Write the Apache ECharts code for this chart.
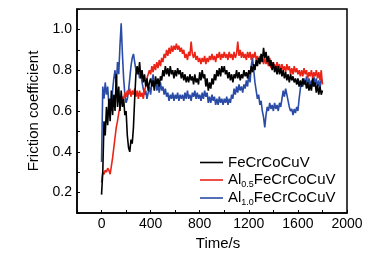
<!DOCTYPE html>
<html>
<head>
<meta charset="utf-8">
<script src="https://cdn.jsdelivr.net/npm/echarts@6/dist/echarts.min.js"></script>
<style>
  html, body { margin: 0; padding: 0; background: #fff; }
  #chart { width: 371px; height: 259px; }
</style>
</head>
<body>
<div id="chart"></div>
<script>
// sampling step of the friction curves, seconds
const timeStep = 10

// tick label positions
const xLabels = [0, 400, 800, 1200, 1600, 2000]
const yLabels = [0.2, 0.4, 0.6, 0.8, 1.0]

const seriesNames = ['FeCrCoCuV', 'Al0.5FeCrCoCuV', 'Al1.0FeCrCoCuV']

// FeCrCoCuV, 0..1800 s
const fecrcocuv = [
  0.19, 0.30, 0.55, 0.48, 0.62, 0.53, 0.66, 0.55, 0.70, 0.58,
  0.68, 0.60, 0.78, 0.62, 0.72, 0.60, 0.70, 0.62, 0.66, 0.58,
  0.60, 0.48, 0.42, 0.40, 0.46, 0.44, 0.52, 0.66, 0.78, 0.82,
  0.78, 0.84, 0.76, 0.80, 0.74, 0.78, 0.72, 0.76, 0.70, 0.74,
  0.76, 0.72, 0.75, 0.70, 0.77, 0.73, 0.76, 0.72, 0.77, 0.75,
  0.80, 0.77, 0.82, 0.78, 0.81, 0.77, 0.82, 0.78, 0.80, 0.76,
  0.80, 0.77, 0.81, 0.78, 0.80, 0.76, 0.79, 0.75, 0.78, 0.74,
  0.77, 0.74, 0.78, 0.75, 0.77, 0.73, 0.78, 0.74, 0.76, 0.73,
  0.79, 0.75, 0.80, 0.76, 0.78, 0.72, 0.76, 0.70, 0.74, 0.71,
  0.76, 0.73, 0.78, 0.75, 0.80, 0.77, 0.81, 0.77, 0.82, 0.79,
  0.82, 0.78, 0.80, 0.76, 0.79, 0.75, 0.78, 0.74, 0.78, 0.76,
  0.80, 0.76, 0.79, 0.75, 0.78, 0.76, 0.80, 0.77, 0.79, 0.76,
  0.80, 0.78, 0.82, 0.79, 0.83, 0.80, 0.85, 0.82, 0.86, 0.83,
  0.88, 0.84, 0.91, 0.86, 0.89, 0.84, 0.87, 0.82, 0.85, 0.80,
  0.84, 0.79, 0.82, 0.78, 0.82, 0.78, 0.81, 0.77, 0.80, 0.76,
  0.79, 0.75, 0.78, 0.74, 0.78, 0.75, 0.77, 0.74, 0.76, 0.73,
  0.76, 0.72, 0.75, 0.72, 0.76, 0.73, 0.75, 0.71, 0.74, 0.70,
  0.73, 0.70, 0.76, 0.72, 0.74, 0.69, 0.73, 0.68, 0.72, 0.68,
  0.70
]

// Al0.5FeCrCoCuV
const al05 = [
  0.25, 0.30, 0.29, 0.31, 0.30, 0.32, 0.31, 0.29, 0.33, 0.37,
  0.42, 0.47, 0.52, 0.55, 0.59, 0.62, 0.64, 0.67, 0.66, 0.69,
  0.67, 0.70, 0.68, 0.71, 0.67, 0.70, 0.68, 0.71, 0.67, 0.70,
  0.66, 0.70, 0.67, 0.69, 0.66, 0.70, 0.72, 0.76, 0.78, 0.80,
  0.78, 0.82, 0.79, 0.83, 0.80, 0.84, 0.81, 0.85, 0.82, 0.86,
  0.84, 0.88, 0.86, 0.90, 0.87, 0.91, 0.88, 0.92, 0.89, 0.92,
  0.90, 0.93, 0.90, 0.92, 0.89, 0.91, 0.88, 0.90, 0.86, 0.88,
  0.85, 0.89, 0.87, 0.94, 0.88, 0.86, 0.89, 0.85, 0.87, 0.84,
  0.86, 0.83, 0.86, 0.84, 0.87, 0.83, 0.86, 0.84, 0.87, 0.85,
  0.88, 0.85, 0.87, 0.84, 0.88, 0.86, 0.89, 0.85, 0.88, 0.86,
  0.89, 0.86, 0.88, 0.85, 0.89, 0.86, 0.88, 0.85, 0.89, 0.86,
  0.88, 0.94, 0.87, 0.90, 0.86, 0.89, 0.86, 0.88, 0.85, 0.89,
  0.86, 0.89, 0.85, 0.88, 0.86, 0.89, 0.85, 0.87, 0.84, 0.87,
  0.84, 0.86, 0.83, 0.86, 0.83, 0.85, 0.82, 0.86, 0.81, 0.84,
  0.81, 0.83, 0.80, 0.84, 0.81, 0.83, 0.79, 0.83, 0.80, 0.82,
  0.79, 0.83, 0.80, 0.82, 0.78, 0.81, 0.78, 0.82, 0.79, 0.81,
  0.78, 0.80, 0.77, 0.80, 0.77, 0.81, 0.78, 0.80, 0.76, 0.79,
  0.77, 0.80, 0.76, 0.79, 0.77, 0.80, 0.76, 0.79, 0.75, 0.80,
  0.73
]

// Al1.0FeCrCoCuV
const al10 = [
  0.35, 0.72, 0.66, 0.74, 0.68, 0.72, 0.63, 0.66, 0.60, 0.70,
  0.76, 0.80, 0.72, 0.84, 0.78, 0.92, 1.03, 0.88, 0.76, 0.68,
  0.64, 0.66, 0.70, 0.76, 0.82, 0.86, 0.88, 0.84, 0.80, 0.78,
  0.80, 0.76, 0.79, 0.74, 0.71, 0.68, 0.70, 0.66, 0.69, 0.72,
  0.68, 0.74, 0.78, 0.72, 0.75, 0.70, 0.73, 0.69, 0.74, 0.70,
  0.72, 0.68, 0.71, 0.67, 0.69, 0.65, 0.68, 0.66, 0.69, 0.65,
  0.68, 0.66, 0.69, 0.65, 0.68, 0.66, 0.68, 0.65, 0.69, 0.66,
  0.70, 0.66, 0.68, 0.65, 0.69, 0.67, 0.70, 0.66, 0.69, 0.66,
  0.68, 0.65, 0.69, 0.66, 0.70, 0.67, 0.69, 0.64, 0.67, 0.64,
  0.68, 0.65, 0.67, 0.63, 0.66, 0.63, 0.67, 0.64, 0.66, 0.63,
  0.66, 0.64, 0.67, 0.63, 0.66, 0.64, 0.68, 0.66, 0.71, 0.68,
  0.72, 0.69, 0.73, 0.70, 0.72, 0.69, 0.73, 0.71, 0.75, 0.72,
  0.78, 0.74, 0.82, 0.86, 0.80, 0.74, 0.70, 0.66, 0.68, 0.63,
  0.65, 0.60, 0.57, 0.52, 0.58, 0.62, 0.60, 0.64, 0.61, 0.63,
  0.60, 0.64, 0.61, 0.63, 0.60, 0.64, 0.62, 0.66, 0.70, 0.67,
  0.71, 0.68, 0.65, 0.62, 0.60, 0.61, 0.58, 0.61, 0.59, 0.62,
  0.60, 0.66, 0.71, 0.74, 0.72, 0.76, 0.73, 0.77, 0.73, 0.76,
  0.72, 0.75, 0.72, 0.77, 0.73, 0.76, 0.72, 0.75, 0.71, 0.76,
  0.74
]

const colors = ['#000000', '#ec2418', '#2a4ca6']

function toPairs(values) {
  return values.map((v, i) => [i * timeStep, v])
}

const chart = echarts.init(document.getElementById('chart'))
const font = 'Liberation Sans, Arial, sans-serif'

const option = {
  animation: false,
  grid: {
    left: 77, right: 24, top: 9, bottom: 46,
    show: true, borderColor: '#000', borderWidth: 1.5
  },
  legend: {
    orient: 'vertical',
    left: 200, top: 154, padding: 0,
    icon: 'rect',
    itemWidth: 23, itemHeight: 1.6, itemGap: 0,
    data: seriesNames,
    textStyle: {
      fontFamily: font, fontSize: 15, color: '#000', lineHeight: 17,
      rich: {
        n: { fontFamily: font, fontSize: 15, color: '#000', lineHeight: 17 },
        s: { fontFamily: font, fontSize: 9, color: '#000', lineHeight: 10, padding: [9, 0, 0, 0] }
      }
    },
    formatter: name => {
      const m = name.match(/^Al([\d.]+)(.*)$/)
      return m ? '{n|Al}{s|' + m[1] + '}{n|' + m[2] + '}' : name
    }
  },
  xAxis: {
    type: 'value', min: -200, max: 2000, interval: 200,
    name: 'Time/s', nameLocation: 'middle', nameGap: 11,
    nameTextStyle: { fontFamily: font, fontSize: 15, color: '#000', padding: [0, 0, 0, 12] },
    axisLine: { show: true, onZero: false, lineStyle: { color: '#000', width: 1.5 } },
    axisTick: { show: true, inside: true, length: 3, lineStyle: { color: '#000' } },
    axisLabel: {
      customValues: xLabels, fontFamily: font, fontSize: 14, color: '#000', margin: 4,
      formatter: v => String(v)
    },
    splitLine: { show: false }
  },
  yAxis: {
    type: 'value', min: 0.1, max: 1.1, interval: 0.1,
    name: 'Friction coefficient', nameLocation: 'middle', nameGap: 33,
    nameTextStyle: { fontFamily: font, fontSize: 15, color: '#000' },
    axisLine: { show: true, onZero: false, lineStyle: { color: '#000', width: 1.5 } },
    axisTick: { show: true, inside: true, length: 3, lineStyle: { color: '#000' } },
    axisLabel: {
      customValues: yLabels, fontFamily: font, fontSize: 14, color: '#000', margin: 5,
      formatter: v => v.toFixed(1)
    },
    splitLine: { show: false }
  },
  series: [fecrcocuv, al05, al10].map((vals, i) => ({
    name: seriesNames[i],
    type: 'line',
    symbol: 'none',
    data: toPairs(vals),
    lineStyle: { color: colors[i], width: 1.6 },
    itemStyle: { color: colors[i] },
    z: 3 - i
  }))
}

chart.setOption(option)
</script>
</body>
</html>
